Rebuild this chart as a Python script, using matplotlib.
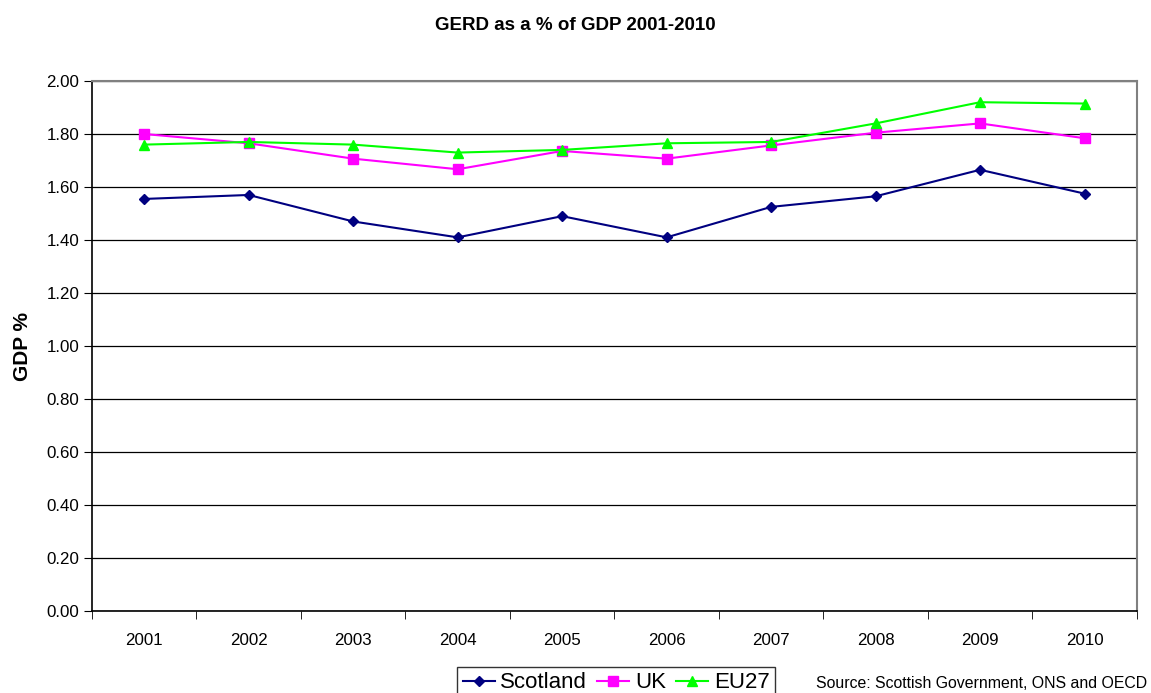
import numpy as np
import matplotlib.pyplot as plt

plt.rcParams['font.family'] = ['Liberation Sans', 'DejaVu Sans']

# Данные
years = ['2001', '2002', '2003', '2004', '2005', '2006', '2007', '2008', '2009', '2010']
scotland = [1.555, 1.57, 1.47, 1.41, 1.49, 1.41, 1.525, 1.565, 1.665, 1.575]
uk = [1.80, 1.765, 1.707, 1.667, 1.736, 1.707, 1.757, 1.805, 1.84, 1.784]
eu27 = [1.76, 1.77, 1.76, 1.73, 1.74, 1.765, 1.77, 1.84, 1.92, 1.915]

fig = plt.figure(figsize=(11.51, 6.93), dpi=100)
ax = fig.add_axes([0.0799, 0.1183, 0.9078, 0.7648])

x = np.arange(1, len(years) + 1)
ax.plot(x, scotland, color='#000080', marker='D', markersize=5.5, lw=1.5, label='Scotland')
ax.plot(x, uk, color='#FF00FF', marker='s', markersize=6.5, lw=1.5, label='UK')
ax.plot(x, eu27, color='#00FF00', marker='^', markersize=7.5, lw=1.5, label='EU27')

ax.set_xlim(0.5, len(years) + 0.5)
ax.set_ylim(0, 2.0)
yt = np.arange(0, 2.01, 0.2)
ax.set_yticks(yt)
ax.set_yticklabels([f'{v:.2f}' for v in yt], fontsize=12.2)
ax.set_xticks(x)
ax.set_xticklabels(years, fontsize=12.2)
ax.set_xticks(np.arange(0.5, len(years) + 1, 1), minor=True)
ax.tick_params(axis='x', which='major', length=0, pad=16)
ax.tick_params(axis='x', which='minor', length=6, direction='out', color='black')
ax.tick_params(axis='y', length=6, direction='out', color='black', pad=3)

ax.grid(axis='y', color='black', lw=0.9)
ax.set_axisbelow(True)
for s in ['top', 'right']:
    ax.spines[s].set_color('#808080')
    ax.spines[s].set_linewidth(1.5)
for s in ['left', 'bottom']:
    ax.spines[s].set_color('black')
    ax.spines[s].set_linewidth(1.2)

# подпись оси Y
ax.set_ylabel('GDP %', fontsize=15, fontweight='bold')
ax.yaxis.set_label_coords((32 - 92) / 1045, 0.5)
fig.text(0.5, 1 - 25 / 693, 'GERD as a % of GDP 2001-2010', ha='center', va='center',
         fontsize=13.5, fontweight='bold')

leg = fig.legend(loc='center', bbox_to_anchor=(616 / 1151, 1 - 683 / 693), ncol=3,
                 fontsize=16, frameon=True, fancybox=False, edgecolor='black',
                 handlelength=1.45, handletextpad=0.25, columnspacing=0.45,
                 borderpad=0.25, borderaxespad=0)
leg.get_frame().set_linewidth(1.0)

fig.text(1147 / 1151, 1 - 684 / 693, 'Source: Scottish Government, ONS and OECD',
         ha='right', va='center', fontsize=11.4)

fig.savefig('out.png', dpi=100)
